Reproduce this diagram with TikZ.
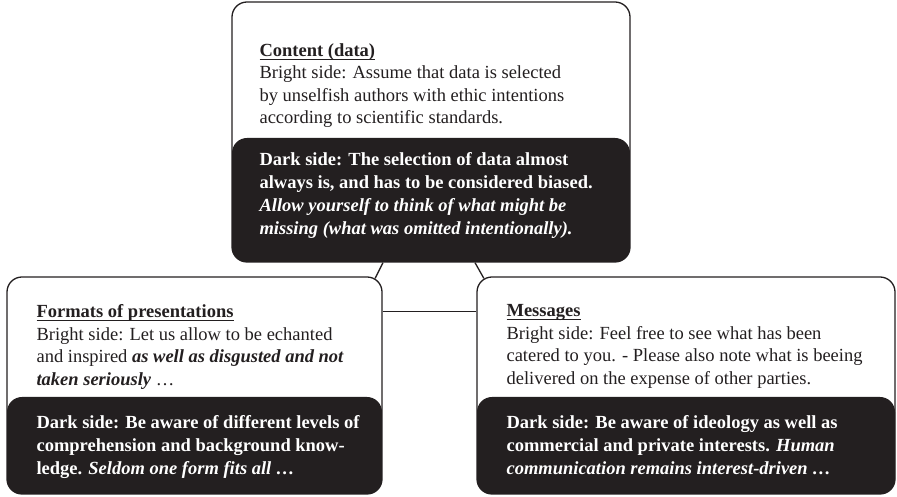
\documentclass[tikz,border=0pt]{standalone}
\usepackage{fontspec}
\setmainfont{Liberation Serif}
\usetikzlibrary{positioning,calc}
\definecolor{darkside}{RGB}{35,31,32}
\newcommand{\underhead}[1]{\textbf{\setbox0\hbox{#1}\rlap{\rule[-3.4pt]{\wd0}{0.9pt}}\box0}}

\begin{document}
\begin{tikzpicture}[
        x=1pt, y=1pt,
        box/.style={rectangle, draw=darkside, line width=1.3pt, rounded corners=15pt, inner sep=0pt,
            path picture={\fill[darkside] (path picture bounding box.south west) rectangle ([yshift=#1]path picture bounding box.south east);}},
        bright/.style={anchor=north west, inner sep=0pt, align=left, text=darkside, font=\fontsize{18.5}{22.5}\selectfont},
        dark/.style={anchor=north west, inner sep=0pt, align=left, text=white, font=\fontsize{18.5}{23}\selectfont\bfseries},
        link/.style={line width=1.3pt, draw=darkside}
    ]
        \useasboundingbox (0,0) rectangle (897,497);

        \node[box=124, minimum width=398, minimum height=260] (content) at (431,365) {};
        \node[box=97, minimum width=375, minimum height=217] (formats) at (194.5,111.5) {};
        \node[box=97, minimum width=418, minimum height=217] (messages) at (686,111.5) {};

        \node[bright] (contentbright) at ([shift={(28,-42)}]content.north west)
            {\underhead{Content (data)}\\Bright side: Assume that data is selected\\by unselfish authors with ethic intentions\\according to scientific standards.};
        \node[dark] (contentdark) at ([shift={(28,110)}]content.south west)
            {Dark side: The selection of data almost\\always is, and has to be considered biased.\\\textit{Allow yourself to think of what might be}\\\textit{missing (what was omitted intentionally).}};

        \node[bright] (formatsbright) at ([shift={(30,-28)}]formats.north west)
            {\underhead{Formats of presentations}\\Bright side: Let us allow to be echanted\\and inspired \textbf{\textit{as well as disgusted and not}}\\\textbf{\textit{taken seriously}} \ldots};
        \node[dark] (formatsdark) at ([shift={(30,79)}]formats.south west)
            {Dark side: Be aware of different levels of\\comprehension and background know-\\ledge. \textit{Seldom one form fits all \ldots}};

        \node[bright] (messagesbright) at ([shift={(30,-28)}]messages.north west)
            {\underhead{Messages}\\Bright side: Feel free to see what has been\\catered to you. - Please also note what is beeing\\delivered on the expense of other parties.};
        \node[dark] (messagesdark) at ([shift={(30,79)}]messages.south west)
            {Dark side: Be aware of ideology as well as\\commercial and private interests. \textit{Human}\\\textit{communication remains interest-driven \ldots}};

        \coordinate (formatscorner) at ($(formats.north east)+(-15pt,-15pt)+(60:15pt)$);
        \coordinate (messagescorner) at ($(messages.north west)+(15pt,-15pt)+(120:15pt)$);

        \draw[link] ([xshift=-48]content.south) -- (formatscorner);
        \draw[link] ([xshift=44]content.south) -- (messagescorner);
        \draw[link] ([yshift=74]formats.east) -- ([yshift=74]formats.east -| messages.west);
    \end{tikzpicture}
\end{document}
